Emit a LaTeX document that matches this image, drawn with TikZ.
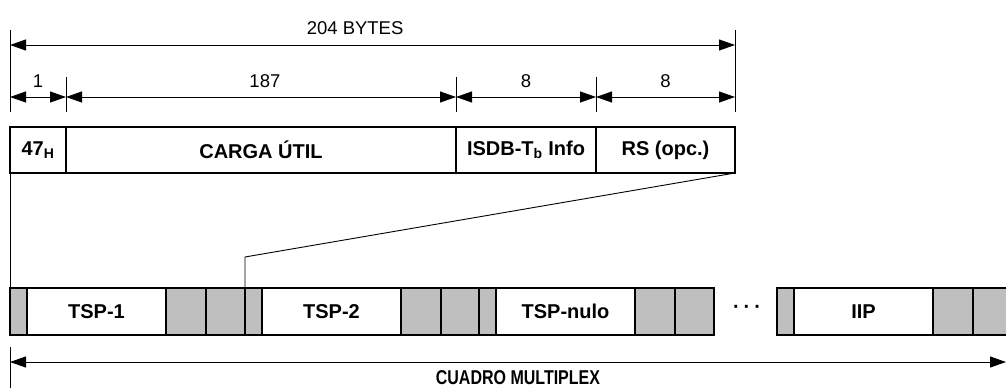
\documentclass[tikz,border=0pt]{standalone}
\usepackage{fontspec}
\setmainfont{Liberation Sans}
\newfontfamily\narrowfont[FakeStretch=0.8]{Liberation Sans}
\usetikzlibrary{arrows.meta}

\begin{document}
\begin{tikzpicture}[
  x=1pt,y=-1pt,
  field/.style={draw,line width=2.4pt,minimum height=46pt,inner sep=0pt,outer sep=0pt,font=\fontsize{20}{21}\selectfont\bfseries},
  cell/.style={field,minimum height=47pt},
  pad/.style={cell,fill=black!25},
  guide/.style={line width=0.9pt},
  dim/.style={guide,{Triangle[length=16pt,width=11pt]}-{Triangle[length=16pt,width=11pt]}},
  size/.style={font=\fontsize{18.5}{20}\selectfont}
]
\clip (0,0) rectangle (1006,388);

\node[field,minimum width=56pt] (sync) at (38,150) {47\textsubscript{H}};
\node[field,minimum width=390pt] (carga) at (261,150) {CARGA ÚTIL};
\node[field,minimum width=140pt] (info) at (526,150) {ISDB-T\textsubscript{b} Info};
\node[field,minimum width=139pt] (rs) at (665.5,150) {RS (opc.)};

\foreach \x/\p/\lbl in {10/a/TSP-1,245/b/TSP-2,479/c/TSP-nulo,777/d/IIP}{
  \node[pad,minimum width=17pt] (\p1) at (\x+8.5,311.5) {};
  \node[cell,minimum width=139pt] (\p2) at (\x+86.5,311.5) {\lbl};
  \node[pad,minimum width=40pt] (\p3) at (\x+176,311.5) {};
  \node[pad,minimum width=39pt] (\p4) at (\x+215.5,311.5) {};
}
\node[font=\fontsize{20}{21}\selectfont\bfseries] (dots) at (747,309) {·\hspace{4pt}·\hspace{4pt}·};

\coordinate (w0) at (10,45);
\coordinate (w1) at (735,45);
\coordinate (d0) at (10,97);
\coordinate (d1) at (66,97);
\coordinate (d2) at (456,97);
\coordinate (d3) at (596,97);
\coordinate (d4) at (735,97);
\foreach \x in {10,735} \draw[guide] (\x,30) -- (\x,112);
\foreach \x in {66,456,596} \draw[guide] (\x,77) -- (\x,112);

\draw[dim] (w0) -- node[size,above=7pt,pos=0.476]{204 BYTES} (w1);
\draw[dim] (d0) -- node[size,above=6pt]{1} (d1);
\draw[dim] (d1) -- node[size,above=6pt,pos=0.51]{187} (d2);
\draw[dim] (d2) -- node[size,above=6pt]{8} (d3);
\draw[dim] (d3) -- node[size,above=6pt]{8} (d4);

\coordinate (knee) at (245,257);
\draw[guide] (sync.south west) -- (a1.north west);
\draw[guide] (rs.south east) -- (knee) -- (b1.north west);

\coordinate (m0) at (10,362);
\coordinate (m1) at (1006,362);
\draw[guide] (10,347) -- (10,388);
\draw[dim] (m0) -- node[below=5pt,pos=0.51,font=\fontsize{20}{20}\selectfont\narrowfont\bfseries]{CUADRO MULTIPLEX} (m1);
\end{tikzpicture}
\end{document}
